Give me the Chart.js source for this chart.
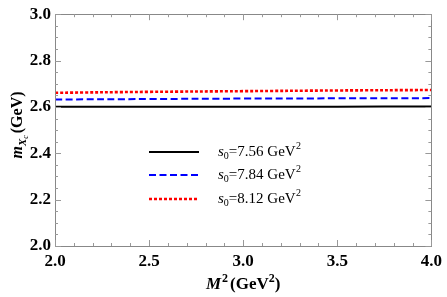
<!DOCTYPE html>
<html><head><meta charset="utf-8">
<script src="https://cdn.jsdelivr.net/npm/chart.js@4"></script>
<style>html,body{margin:0;padding:0;background:#fff;}#wrap{width:447px;height:297px;}</style>
</head><body><div id="wrap"><canvas id="c" width="447" height="297"></canvas></div>
<script>
const xValues = [2.0, 2.5, 3.0, 3.5, 4.0];
const s756 = [2.601, 2.601, 2.601, 2.601, 2.602];
const s784 = [2.632, 2.634, 2.636, 2.637, 2.638];
const s812 = [2.661, 2.665, 2.668, 2.671, 2.673];
const seriesLabels = ['7.56', '7.84', '8.12'];
const xTicks = [2.0, 2.5, 3.0, 3.5, 4.0];
const yTicks = [2.0, 2.2, 2.4, 2.6, 2.8, 3.0];

const SERIF = '"Liberation Serif","DejaVu Serif",serif';
const styles = [
  {color:'#000000', dash:[], width:2},
  {color:'#0000ff', dash:[7,3.5], width:2},
  {color:'#ff0000', dash:[3,2], width:2.6}
];
const seriesData = [s756, s784, s812];

const decor = {
  id:'decor',
  afterDraw(chart){
    const ctx = chart.ctx, a = chart.chartArea;
    const xs = chart.scales.x, ys = chart.scales.y;
    ctx.save();
    // frame
    ctx.strokeStyle = '#888'; ctx.lineWidth = 1;
    ctx.strokeRect(Math.round(a.left)+0.5, Math.round(a.top)+0.5, Math.round(a.right-a.left), Math.round(a.bottom-a.top));
    // ticks inside
    ctx.strokeStyle = '#999';
    ctx.beginPath();
    for (let v = 2.0; v <= 4.0001; v += 0.1) {
      const px = Math.round(xs.getPixelForValue(v))+0.5;
      const major = Math.abs(v*2 - Math.round(v*2)) < 1e-6;
      const L = major ? 6 : 3;
      ctx.moveTo(px, a.bottom); ctx.lineTo(px, a.bottom - L);
      ctx.moveTo(px, a.top); ctx.lineTo(px, a.top + L);
    }
    for (let v = 2.0; v <= 3.0001; v += 0.05) {
      const py = Math.round(ys.getPixelForValue(v))+0.5;
      const major = Math.abs(v*5 - Math.round(v*5)) < 1e-6;
      const L = major ? 6 : 3;
      ctx.moveTo(a.left, py); ctx.lineTo(a.left + L, py);
      ctx.moveTo(a.right, py); ctx.lineTo(a.right - L, py);
    }
    ctx.stroke();
    // legend
    const lx0 = 149, lx1 = 199, tx = 218;
    const ly = [152, 175, 199];
    ctx.textBaseline = 'middle'; ctx.textAlign = 'left';
    for (let i = 0; i < 3; i++) {
      const st = styles[i];
      ctx.strokeStyle = st.color; ctx.lineWidth = st.width; ctx.setLineDash(st.dash);
      ctx.beginPath(); ctx.moveTo(lx0, ly[i]); ctx.lineTo(lx1, ly[i]); ctx.stroke();
      ctx.setLineDash([]);
      ctx.fillStyle = '#000';
      let x = tx;
      ctx.font = 'italic 15px ' + SERIF;
      ctx.fillText('s', x, ly[i]); x += ctx.measureText('s').width;
      ctx.font = '10px ' + SERIF;
      ctx.fillText('0', x, ly[i] + 4); x += ctx.measureText('0').width;
      ctx.font = '15px ' + SERIF;
      const t = '=' + seriesLabels[i] + ' GeV';
      ctx.fillText(t, x, ly[i]); x += ctx.measureText(t).width;
      ctx.font = '10px ' + SERIF;
      ctx.fillText('2', x + 0.5, ly[i] - 6);
    }
    // x title
    ctx.fillStyle = '#000';
    ctx.textBaseline = 'alphabetic';
    const xt = [
      {t:'M', f:'italic bold 17px ', dy:0},
      {t:'2', f:'bold 12px ', dy:-7},
      {t:'(GeV', f:'bold 17px ', dy:0},
      {t:'2', f:'bold 12px ', dy:-7},
      {t:')', f:'bold 17px ', dy:0}
    ];
    let w = 3;
    xt.forEach(p => { ctx.font = p.f + SERIF; w += ctx.measureText(p.t).width; });
    let x = (a.left + a.right)/2 - w/2;
    const by = 289;
    xt.forEach((p, idx) => { ctx.font = p.f + SERIF; ctx.fillText(p.t, x, by + p.dy); x += ctx.measureText(p.t).width + (idx===1 ? 2 : 0) ; if (idx===0) x += 1; });
    // y title rotated
    ctx.save();
    ctx.translate(17, 125);
    ctx.rotate(-Math.PI/2);
    const yt = [
      {t:'m', f:'italic bold 16px ', dy:0},
      {t:'X', f:'italic bold 11px ', dy:4},
      {t:'c', f:'italic 8px ', dy:6},
      {t:'(GeV)', f:'bold 16px ', dy:0}
    ];
    let w2 = 0;
    yt.forEach(p => { ctx.font = p.f + SERIF; w2 += ctx.measureText(p.t).width; });
    w2 += 2;
    let yx = -w2/2;
    yt.forEach((p, idx) => { ctx.font = p.f + SERIF; ctx.fillText(p.t, yx, 5 + p.dy); yx += ctx.measureText(p.t).width; if (idx===2) yx += 2; });
    ctx.restore();
    ctx.restore();
  }
};

new Chart(document.getElementById('c'), {
  type:'line',
  data:{
    datasets: seriesData.map((d, i) => ({
      label: 's0=' + seriesLabels[i] + ' GeV2',
      data: xValues.map((x, j) => ({x, y: d[j]})),
      borderColor: styles[i].color,
      borderDash: styles[i].dash,
      borderWidth: styles[i].width,
      pointRadius: 0,
      tension: 0.4,
      fill:false
    }))
  },
  options:{
    responsive:false,
    animation:false,
    layout:{padding:{left:0, top:10, right:11, bottom:0}},
    plugins:{legend:{display:false}, tooltip:{enabled:false}},
    scales:{
      x:{
        type:'linear', min:2.0, max:4.0,
        afterBuildTicks(s){ s.ticks = xTicks.map(v => ({value:v})); },
        afterFit(s){ s.height = 51; },
        grid:{display:false, drawTicks:false},
        border:{display:false},
        ticks:{color:'#000', font:{family:SERIF, size:17, weight:'bold'}, padding:5, maxRotation:0,
          callback:v => v.toFixed(1)}
      },
      y:{
        type:'linear', min:2.0, max:3.0,
        afterBuildTicks(s){ s.ticks = yTicks.map(v => ({value:v})); },
        afterFit(s){ s.width = 55; },
        grid:{display:false, drawTicks:false},
        border:{display:false},
        ticks:{color:'#000', font:{family:SERIF, size:17, weight:'bold'}, padding:4,
          callback:v => v.toFixed(1)}
      }
    }
  },
  plugins:[decor]
});
</script>
</body></html>
